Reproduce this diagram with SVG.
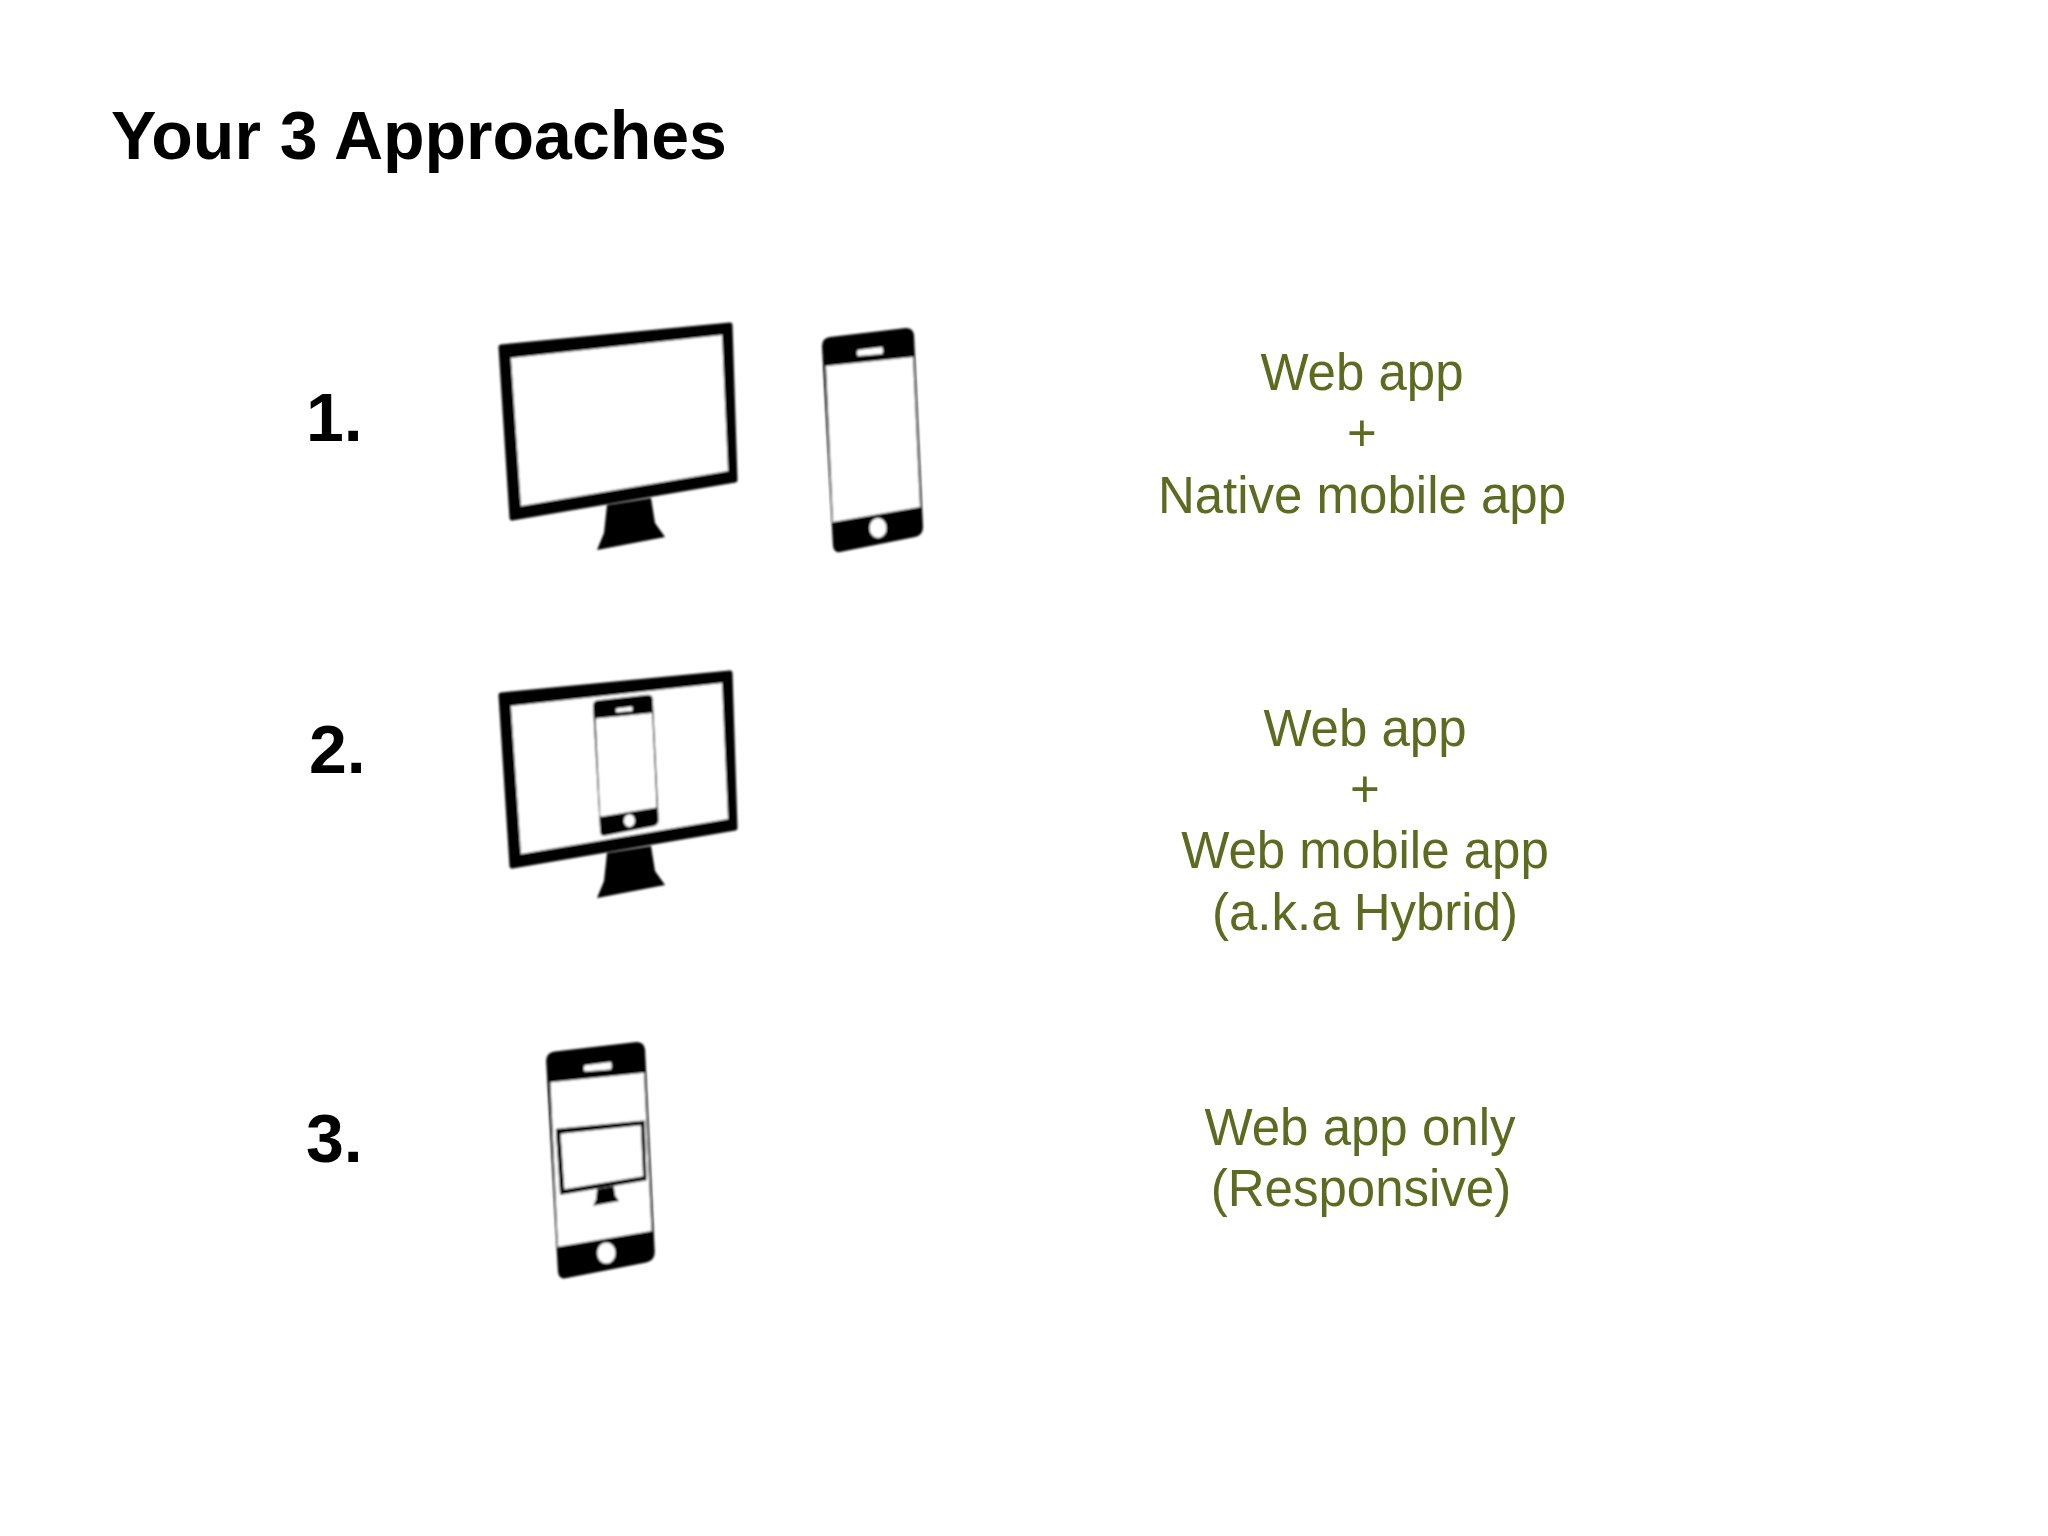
<svg xmlns="http://www.w3.org/2000/svg" xmlns:xlink="http://www.w3.org/1999/xlink" width="2048" height="1536" viewBox="0 0 2048 1536">
<style>
text{font-family:"Liberation Sans",Arial,sans-serif}
.h{font-size:68px;font-weight:700;fill:#000}
.g{font-size:51px;fill:#5c6b1f;text-anchor:middle}
</style>
<defs>
<filter id="soft" x="-5%" y="-5%" width="110%" height="110%"><feGaussianBlur stdDeviation="1"/></filter>
<g id="monitor">
<path fill="#000" stroke="#000" stroke-width="5" stroke-linejoin="round" d="M501 347L730 325L735 480L512 518Z"/>
<path fill="#000" d="M607 505L651 498L655 523L665 537L597 550L604 533Z"/>
<path fill="#fff" d="M511 358L722 335L728 471L521 506Z"/>
</g>
<g id="phone">
<path fill="#000" d="M830 337L906 328Q913 328 914 335L923 527Q923 535 915 537L840 552Q834 553 833 546L822 346Q822 338 830 337Z"/>
<path fill="#fff" d="M826 366L913 357L920 507L833 522Z"/>
<path fill="#fff" d="M858 350L882 347Q884 351 882 354L858 356Q856 353 858 350Z"/>
<ellipse cx="878" cy="528" rx="8.5" ry="10" fill="#fff"/>
</g>
</defs>
<rect width="2048" height="1536" fill="#fff"/>
<g id="title"><text class="h" x="111" y="159">Your 3 Approaches</text></g>
<g id="approach-1">
<text class="h" x="306" y="441">1.</text>
<g filter="url(#soft)"><use xlink:href="#monitor"/><use xlink:href="#phone"/></g>
<text class="g" x="1362" y="390">Web app</text>
<text class="g" x="1362" y="451">+</text>
<text class="g" x="1362" y="513">Native mobile app</text>
</g>
<g id="approach-2">
<text class="h" x="309" y="773">2.</text>
<g filter="url(#soft)"><use xlink:href="#monitor" transform="translate(0 348)"/><use xlink:href="#phone" transform="translate(58.7 488) scale(.65 .63)"/></g>
<text class="g" x="1365" y="746">Web app</text>
<text class="g" x="1365" y="807">+</text>
<text class="g" x="1365" y="868">Web mobile app</text>
<text class="g" x="1365" y="930">(a.k.a Hybrid)</text>
</g>
<g id="approach-3">
<text class="h" x="306" y="1162">3.</text>
<g filter="url(#soft)"><use xlink:href="#phone" transform="translate(-337.5 696) scale(1.075 1.055)"/><use xlink:href="#monitor" transform="translate(366.4 999.6) scale(.38 .375)"/></g>
<text class="g" x="1360" y="1145">Web app only</text>
<text class="g" x="1361" y="1206">(Responsive)</text>
</g>
</svg>
